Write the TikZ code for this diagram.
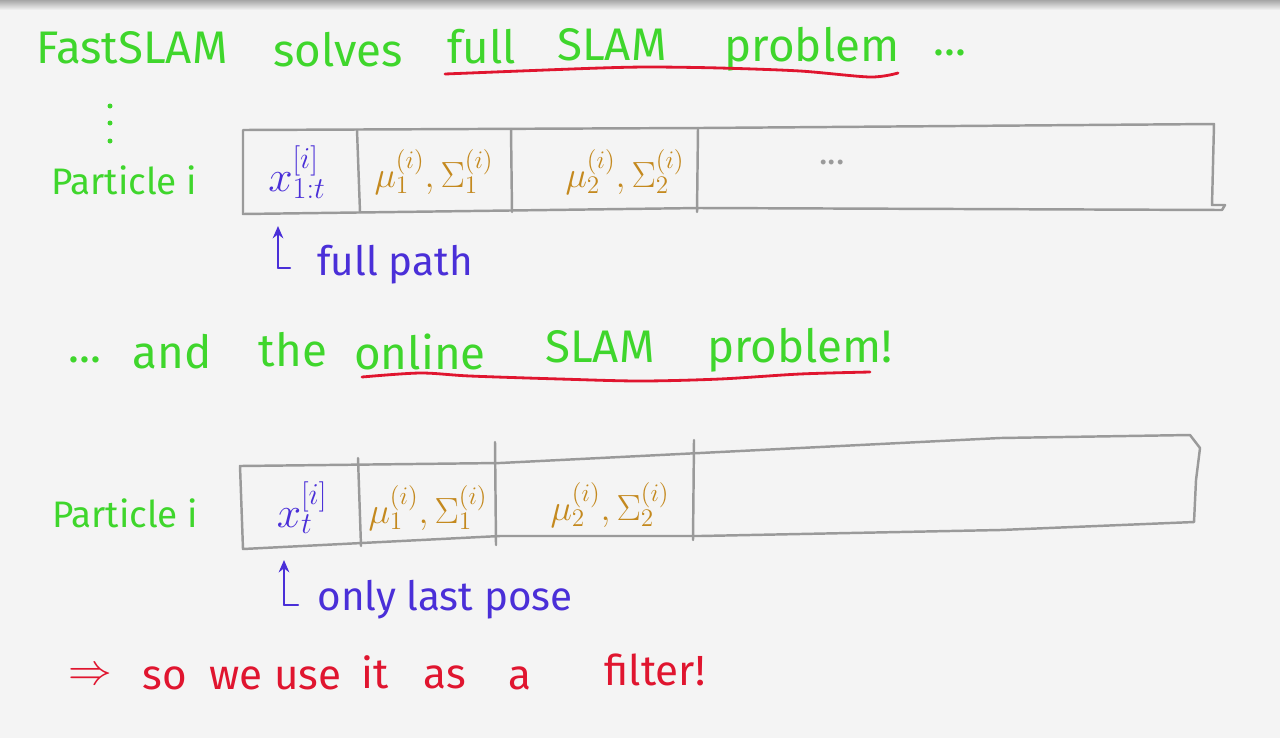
\documentclass[tikz,border=0pt]{standalone}
\usepackage{fontspec}
\setmainfont{Fira Sans}
\usetikzlibrary{arrows.meta}
\definecolor{bg}{HTML}{F4F4F4}
\definecolor{pen}{HTML}{3FD62C}
\definecolor{ink}{HTML}{4A2FD8}
\definecolor{ochre}{HTML}{C4891E}
\definecolor{redpen}{HTML}{E0152F}
\definecolor{boxgray}{HTML}{9A9A9A}
\tikzset{
  gtext/.style={text=pen, font=\fontsize{26}{30}\selectfont, inner sep=0pt},
  ptext/.style={text=pen, font=\fontsize{21}{25}\selectfont, inner sep=0pt},
  rtext/.style={text=redpen, font=\fontsize{24}{28}\selectfont, inner sep=0pt},
  btext/.style={text=ink, font=\fontsize{23}{27}\selectfont, inner sep=0pt},
  xcell/.style={text=ink, font=\fontsize{25}{29}\selectfont, inner sep=0pt},
  mcell/.style={text=ochre, font=\fontsize{22}{26}\selectfont, inner sep=0pt},
  boxline/.style={draw=boxgray, line width=1.4pt, line join=round, line cap=round},
  uline/.style={draw=redpen, line width=1.6pt, line cap=round},
  parrow/.style={draw=ink, line width=1.4pt, -{Stealth[length=7pt,width=6pt]}},
  pfoot/.style={draw=ink, line width=1.4pt, line cap=round},
}
\begin{document}
\begin{tikzpicture}[x=0.02cm, y=-0.02cm]
\fill[bg] (0,0) rectangle (1280,738);
\shade[top color=black!35, bottom color=bg] (0,0) rectangle (1280,10);
\useasboundingbox (0,0) rectangle (1280,738);

% title
\node[gtext] (t1) at (132,48) {FastSLAM};
\node[gtext] (t2) at (338,50) {solves};
\node[gtext] (t3) at (482,47) {full};
\node[gtext] (t4) at (612,45) {SLAM};
\node[gtext] (t5) at (812,49) {problem};
\node[gtext] (t6) at (950,53) {...};
\draw[uline] plot[smooth] coordinates {(445,74) (520,71) (600,68) (650,67) (720,68) (800,71) (870,77) (898,73)};

% vertical dots
\fill[pen] (110,106) circle (2.5);
\fill[pen] (110,123) circle (2.5);
\fill[pen] (110,141) circle (2.5);

% first particle
\node[ptext] (p1) at (124,180) {Particle i};
\coordinate (a1) at (243,130);
\coordinate (a2) at (1214,124);
\coordinate (a3) at (1222,210);
\coordinate (a4) at (243,214);
\draw[boxline] (a1) -- (700,128) -- (a2) -- (1212,205) -- (1225,205) -- (a3) -- (700,208) -- (a4) -- cycle;
\draw[boxline] (357,130) -- (360,212);
\draw[boxline] (511,129) -- (512,212);
\draw[boxline] (698,128) -- (697,212);
\node[xcell] (c11) at (297,172) {$x^{[i]}_{1:t}$};
\node[mcell] (c12) at (434,172) {$\mu^{(i)}_{1},\Sigma^{(i)}_{1}$};
\node[mcell] (c13) at (625,172) {$\mu^{(i)}_{2},\Sigma^{(i)}_{2}$};
\node[text=boxgray, font=\fontsize{20}{24}\selectfont, inner sep=0pt] (c14) at (832,162) {...};

\coordinate (f1) at (278,268);
\coordinate (f1r) at (290,268);
\coordinate (f1t) at (278,226);
\draw[pfoot] (f1r) -- (f1);
\draw[parrow] (f1) -- (f1t);
\node[btext] (l1) at (395,265) {full path};

% second line
\node[gtext] (s1) at (85,360) {...};
\node[gtext] (s2) at (172,352) {and};
\node[gtext] (s3) at (293,350) {the};
\node[gtext] (s4) at (420,352) {online};
\node[gtext] (s5) at (600,347) {SLAM};
\node[gtext] (s6) at (800,350) {problem!};
\draw[uline] plot[smooth] coordinates {(362,377) (420,373) (470,376) (560,379) (640,381) (720,379) (800,374) (870,372)};

% second particle
\node[ptext] (p2) at (125,513) {Particle i};
\coordinate (b1) at (240,466);
\coordinate (b2) at (1190,435);
\coordinate (b3) at (1194,522);
\coordinate (b4) at (243,549);
\draw[boxline] (b1) -- (500,463) -- (800,448) -- (1000,438) -- (b2) -- (1200,448) -- (1196,480) -- (b3) -- (1000,530) -- (700,536) -- (500,536) -- (b4) -- cycle;
\draw[boxline] (358,458) -- (361,546);
\draw[boxline] (495,442) -- (496,545);
\draw[boxline] (694,440) -- (693,540);
\node[xcell] (c21) at (302,508) {$x^{[i]}_{t}$};
\node[mcell] (c22) at (428,508) {$\mu^{(i)}_{1},\Sigma^{(i)}_{1}$};
\node[mcell] (c23) at (610,505) {$\mu^{(i)}_{2},\Sigma^{(i)}_{2}$};

\coordinate (f2) at (284,605);
\coordinate (f2r) at (298,605);
\coordinate (f2t) at (284,560);
\draw[pfoot] (f2r) -- (f2);
\draw[parrow] (f2) -- (f2t);
\node[btext] (l2) at (445,600) {only last pose};

% conclusion
\node[rtext] (r1) at (90,676) {$\Rightarrow$};
\node[rtext] (r2) at (165,678) {so};
\node[rtext] (r3) at (236,678) {we};
\node[rtext] (r4) at (308,678) {use};
\node[rtext] (r5) at (375,672) {it};
\node[rtext] (r6) at (445,677) {as};
\node[rtext] (r7) at (520,678) {a};
\node[rtext] (r8) at (655,670) {filter!};
\end{tikzpicture}
\end{document}
